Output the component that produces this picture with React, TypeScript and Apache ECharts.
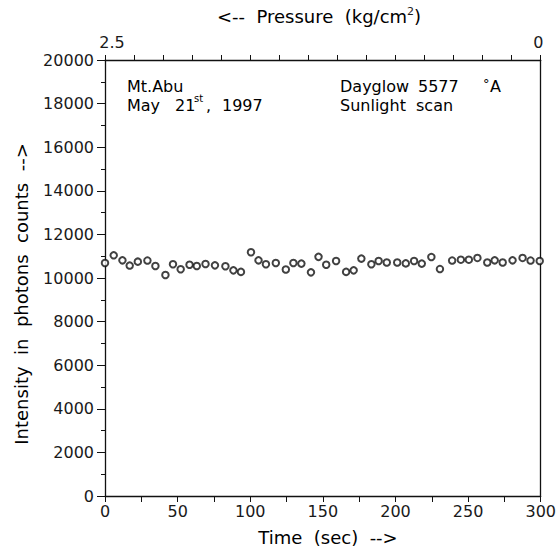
import React, { useEffect, useRef } from "react";
import * as echarts from "echarts";

const timeSec = [0, 6, 12, 17, 22.6, 29.2, 34.7, 41.6, 46.8, 52.1, 58.2, 63.2, 69.2, 75.7, 82.9, 88.4, 93.6, 100.5, 105.7, 110.8, 117.6, 124.5, 129.7, 135.2, 141.8, 147, 152.3, 159.1, 166, 171.2, 176.5, 183.4, 188.4, 194, 201.2, 207.1, 212.8, 218.1, 224.7, 230.6, 239, 245, 250.5, 256.4, 263.2, 268.3, 273.8, 280.6, 287.5, 293, 299.3];
const counts = [10690, 11040, 10810, 10570, 10750, 10800, 10550, 10140, 10630, 10400, 10610, 10550, 10640, 10580, 10540, 10350, 10280, 11180, 10810, 10630, 10690, 10390, 10690, 10660, 10260, 10970, 10610, 10780, 10280, 10350, 10890, 10630, 10780, 10710, 10710, 10670, 10780, 10660, 10960, 10410, 10800, 10840, 10840, 10920, 10710, 10810, 10710, 10810, 10920, 10800, 10780];
const topTickLabels = ["2.5", "0"];
const xTitle = "Time  (sec)  -->";
const yTitle = "Intensity  in  photons  counts  -->";

const FONT = "DejaVu Sans";
const INK = "#1a1a1a";

export default function App() {
  const ref = useRef<HTMLDivElement>(null);
  useEffect(() => {
    if (!ref.current) return;
    const chart = echarts.init(ref.current, null, { renderer: "svg" });
    const data = timeSec.map((t, i) => [t, counts[i]]);
    const axisLine = { show: true, onZero: false, lineStyle: { color: "#111", width: 1.3 } };
    const txt = { fontFamily: FONT, color: INK, fontWeight: "normal" as any };
    const t = (text: string, x: number, y: number, fontSize = 16) => ({
      type: "text", x, y,
      style: { text, ...txt, fontSize, align: "left", verticalAlign: "middle" } as any,
    });
    chart.setOption({
      animation: false,
      backgroundColor: "#fff",
      grid: { left: 105, right: 15, top: 60, bottom: 58 },
      xAxis: [
        {
          type: "value", position: "bottom", min: 0, max: 300, interval: 50,
          axisLine, splitLine: { show: false },
          axisTick: { show: true, inside: false, length: 6, lineStyle: { color: "#111" } },
          minorTick: { show: true, splitNumber: 2, length: 6, lineStyle: { color: "#111" } },
          axisLabel: { ...txt, fontSize: 16, margin: 7 },
        },
        {
          type: "value", position: "top", min: 0, max: 300, interval: 20,
          axisLine, splitLine: { show: false },
          axisTick: { show: true, inside: false, length: 5, lineStyle: { color: "#111" } },
          axisLabel: {
            ...txt, fontSize: 16, margin: 10,
            formatter: (v: number) => (v === 0 ? `{l|${topTickLabels[0]}}` : v === 300 ? `{r|${topTickLabels[1]}}` : ""),
            rich: {
              l: { fontSize: 16, fontFamily: FONT, color: INK, padding: [0, 0, 0, 14] },
              r: { fontSize: 16, fontFamily: FONT, color: INK, padding: [0, 5, 0, 0] },
            },
          },
        },
      ],
      yAxis: [
        {
          type: "value", position: "left", min: 0, max: 20000, interval: 2000,
          axisLine, splitLine: { show: false },
          axisTick: { show: true, inside: false, length: 8, lineStyle: { color: "#111" } },
          minorTick: { show: true, splitNumber: 2, length: 4, lineStyle: { color: "#111" } },
          axisLabel: { ...txt, fontSize: 16, margin: 11, formatter: (v: number) => String(v) },
        },
        {
          type: "value", position: "right", min: 0, max: 20000,
          axisLine, splitLine: { show: false },
          axisTick: { show: false }, axisLabel: { show: false },
        },
      ],
      series: [
        {
          type: "scatter", xAxisIndex: 0, yAxisIndex: 0, data,
          symbol: "emptyCircle", symbolSize: 6.5,
          itemStyle: { color: "#111", borderColor: "#111", borderWidth: 1.3 },
        },
      ],
      graphic: [
        {
          type: "text", x: 319, y: 16,
          style: {
            text: "<--  Pressure  (kg/cm{sup|2})", ...txt, fontSize: 18,
            align: "center", verticalAlign: "middle",
            rich: { sup: { fontSize: 11, padding: [0, 0, 9, 0], fontFamily: FONT, fill: INK } },
          } as any,
        },
        {
          type: "text", x: 328, y: 537,
          style: { text: xTitle, ...txt, fontSize: 18, align: "center", verticalAlign: "middle" } as any,
        },
        {
          type: "text", x: 21, y: 294, rotation: Math.PI / 2,
          style: { text: yTitle, ...txt, fontSize: 18, align: "center", verticalAlign: "middle" } as any,
        },
        t("Mt.Abu", 127, 86),
        t("May", 127, 105),
        t("21", 175, 105),
        t("st", 194, 98, 10),
        t(",", 206, 105),
        t("1997", 222, 105),
        t("Dayglow", 340, 86),
        t("5577", 418, 86),
        t("°", 483, 83, 13),
        t("A", 490, 86),
        t("Sunlight", 340, 105),
        t("scan", 416, 105),
      ],
    });
    return () => chart.dispose();
  }, []);
  return <div ref={ref} style={{ width: 559, height: 554, position: "absolute", left: 0, top: 0 }} />;
}
